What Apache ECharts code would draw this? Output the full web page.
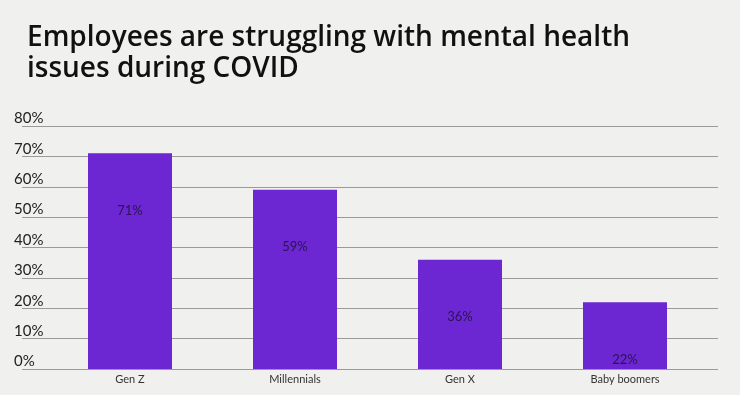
<!DOCTYPE html>
<html>
<head>
<meta charset="utf-8">
<script src="https://cdn.jsdelivr.net/npm/echarts@6/dist/echarts.min.js"></script>
<style>
html,body{margin:0;padding:0;background:#f0f0ef;}
#c{width:740px;height:395px;}
</style>
</head>
<body>
<div id="c"></div>
<script>
const titleText = "Employees are struggling with mental health\nissues during COVID";
const categories = ["Gen Z", "Millennials", "Gen X", "Baby boomers"];
const values = [71, 59, 36, 22];
const yTicks = [0, 10, 20, 30, 40, 50, 60, 70, 80];

const chart = echarts.init(document.getElementById('c'));
const FONT = 'Lato, "Noto Sans", sans-serif';
chart.setOption({
  backgroundColor: '#f0f0ef',
  animation: false,
  title: {
    text: titleText,
    left: 22, top: 18,
    textStyle: {fontFamily: '"Open Sans", sans-serif', fontSize: 28, fontWeight: 600, color: '#111', lineHeight: 31}
  },
  grid: [
    {left: 22, right: 22, top: 126, bottom: 26},
    {left: 47.5, right: 32.5, top: 126, bottom: 26}
  ],
  xAxis: [
    {type: 'category', gridIndex: 0, data: categories, show: false},
    {type: 'category', gridIndex: 1, data: categories,
     axisLine: {show: false}, axisTick: {show: false},
     axisLabel: {fontFamily: FONT, fontSize: 11, color: '#333', margin: 5}}
  ],
  yAxis: [
    {type: 'value', gridIndex: 0, min: yTicks[0], max: yTicks[yTicks.length-1], interval: 10,
     axisLine: {show: false}, axisTick: {show: false},
     splitLine: {show: true, lineStyle: {color: '#9a9a9a', width: 1.2}},
     axisLabel: {align: 'left', margin: 8, verticalAlign: 'bottom', padding: [0,0,0,0],
       fontFamily: FONT, fontSize: 15, color: '#222', formatter: v => v + '%'}},
    {type: 'value', gridIndex: 1, min: 0, max: 80, show: false, splitLine: {show: false}}
  ],
  series: [{
    type: 'bar', xAxisIndex: 1, yAxisIndex: 1,
    data: values, barWidth: 84,
    itemStyle: {color: '#6c27d2'},
    label: {show: true, position: 'insideTop', distance: 51,
      fontFamily: FONT, fontSize: 13, color: '#2a1450', formatter: p => p.value + '%'}
  }]
});
</script>
</body>
</html>
